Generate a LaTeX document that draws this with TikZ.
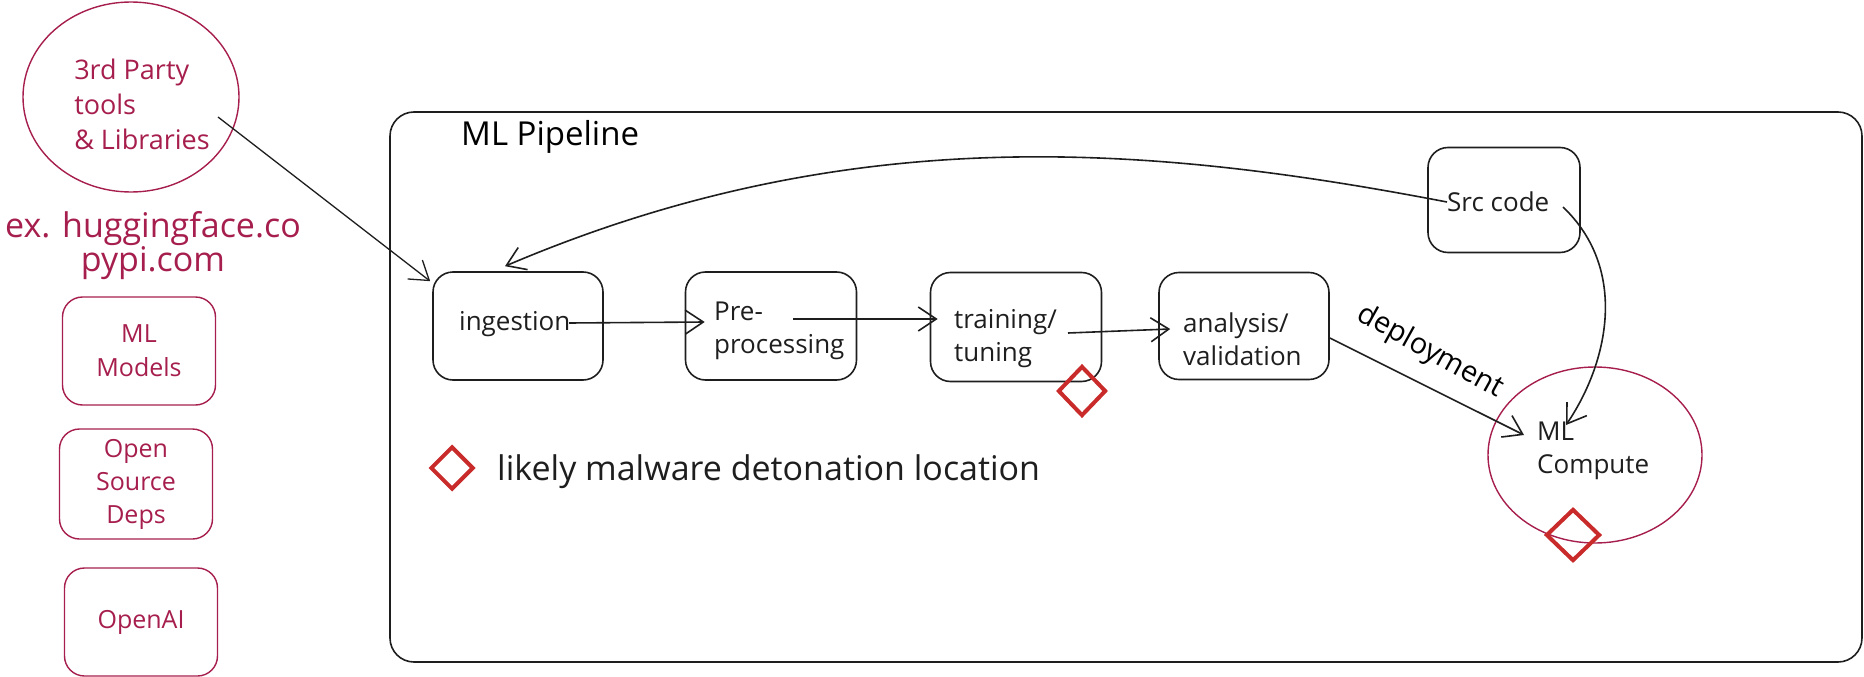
\documentclass[tikz,border=0pt]{standalone}
\usepackage{fontspec}
\setmainfont{Open Sans}
\usetikzlibrary{shapes.geometric, arrows.meta, calc}

\definecolor{ink}{HTML}{1E1E1E}
\definecolor{berry}{HTML}{A61E4D}
\definecolor{alarm}{HTML}{C92A2A}

\tikzset{
  stage/.style={draw=ink, line width=1.6pt, rounded corners=20pt, minimum width=170pt, minimum height=108pt},
  stagetext/.style={inner sep=0pt, anchor=west, align=left, text=ink, font=\fontsize{26}{33}\selectfont},
  extbox/.style={draw=berry, line width=1.4pt, rounded corners=20pt, minimum width=153pt, minimum height=108pt, text=berry, align=center, font=\fontsize{25}{34}\selectfont},
  hazard/.style={diamond, draw=alarm, line width=4pt, aspect=1, inner sep=0pt, minimum width=48pt, minimum height=50pt},
  flow/.style={draw=ink, line width=1.6pt, -{Straight Barb[length=18pt,width=24pt]}},
}

\begin{document}
\begin{tikzpicture}[x=1pt, y=-1pt]
    \useasboundingbox (0,0) rectangle (1864,677);

    % --- Outside sources (left column) ---
    \node[ellipse, draw=berry, line width=1.4pt, minimum width=216pt, minimum height=190pt] (tpl) at (131,97) {};
    \node[inner sep=0pt, align=left, text=berry, font=\fontsize{27}{35}\selectfont] (tpltext) at (142,104) {3rd Party\\tools\\\& Libraries};
    \node[inner sep=0pt, align=center, text=berry, font=\fontsize{34}{31}\selectfont] (hub) at (153,246) {ex. huggingface.co\\pypi.com};
    \node[extbox] (models) at (139,351) {ML\\Models};
    \node[extbox, minimum height=110pt, font=\fontsize{25}{33}\selectfont] (deps) at (136,484) {Open\\Source\\Deps};
    \node[extbox] (openai) at (141,622) {OpenAI};

    % --- ML Pipeline frame ---
    \node[draw=ink, line width=1.6pt, rounded corners=24pt, minimum width=1472pt, minimum height=550pt] (pipe) at (1126,387) {};
    \node[inner sep=0pt, anchor=west, font=\fontsize{33}{36}\selectfont] (pipetitle) at (461,137) {ML Pipeline};

    % --- Stages ---
    \node[stage] (ingestbox) at (518,326) {};
    \node[stagetext] (ingest) at (459,324) {ingestion};
    \node[stage, minimum width=171pt] (prebox) at (771,326) {};
    \node[stagetext] (pre) at (714,331) {Pre-\\processing};
    \node[stage, minimum width=171pt, minimum height=109pt] (trnbox) at (1016,327) {};
    \node[stagetext] (trn) at (954,339) {training/\\tuning};
    \node[stage, minimum height=107pt] (anlbox) at (1244,326) {};
    \node[stagetext] (anl) at (1183,339) {analysis/\\validation};
    \node[stage, minimum width=152pt, minimum height=105pt] (srcbox) at (1504,200) {};
    \node[stagetext] (src) at (1447,202) {Src code};

    % --- Compute target ---
    \node[ellipse, draw=berry, line width=1.4pt, minimum width=214pt, minimum height=176pt] (cmp) at (1595,455) {};
    \node[stagetext] (cmptext) at (1537,451) {ML\\Compute};
    \node[inner sep=0pt, rotate=-29, font=\fontsize{29}{30}\selectfont] (deploy) at (1430,352) {deployment};

    % --- Flow arrows ---
    \draw[flow, line width=1.3pt] ($(tpl.center)+(87,20)$) -- ($(ingestbox.north west)+(-2,10)$);
    \draw[flow] ($(ingestbox.center)+(51,-3)$) -- ($(prebox.west)+(20,-4)$);
    \draw[flow] ($(prebox.center)+(22,-7)$) -- ($(trnbox.west)+(8,-8)$);
    \draw[flow] ($(trnbox.center)+(52,6)$) -- ($(anlbox.west)+(12,3)$);
    \draw[flow] ($(anlbox.east)+(0,12)$) -- ($(cmp.center)+(-71,-20)$);
    % source code feeds back into ingestion and out to compute
    \draw[flow] ($(srcbox.center)+(-57,2)$) .. controls +(-297,-57) and +(345,-147) .. ($(ingestbox.north)+(-13,-5)$);
    \draw[flow] ($(srcbox.center)+(59,7)$) .. controls +(66,63) and +(42,-62) .. ($(cmp.center)+(-29,-30)$);

    % --- Detonation markers and legend ---
    \node[hazard] (det1) at (1082,391) {};
    \node[hazard, minimum width=54pt, minimum height=52pt] (det2) at (1573,535) {};
    \node[hazard, minimum width=43pt, minimum height=43pt] (det0) at (452,468) {};
    \node[stagetext, font=\fontsize{34}{40}\selectfont] (legend) at (497,472) {likely malware detonation location};

\end{tikzpicture}
\end{document}
